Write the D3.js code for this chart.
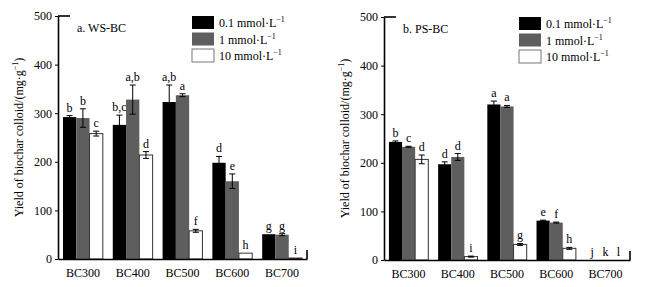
<!DOCTYPE html>
<html lang="en">
<head>
    <meta charset="UTF-8">
    <title>Yield of biochar colloid</title>
    <script src="https://d3js.org/d3.v7.min.js"></script>
    <style>
        body{ margin:0; background:#fff; }
        svg text{ font-family:"Liberation Serif","Times New Roman",serif; fill:#000; }
        g.axis text{ font-size:12px; }
        g.axis path, g.axis line{ stroke:#000; }
    </style>
</head>
<body>
<svg width="649" height="287"></svg>
<script>
    // categories and series
    const categories = ["BC300", "BC400", "BC500", "BC600", "BC700"];
    const seriesNames = ["0.1 mmol·L", "1 mmol·L", "10 mmol·L"];
    const seriesColors = ["#000000", "#5e5e5e", "#ffffff"];
    const yTicks = [0, 100, 200, 300, 400, 500];

    // a. WS-BC
    const wsTitle = "a. WS-BC";
    const wsValues = [
        [292, 276, 323, 198, 51],
        [290, 328, 337, 160, 50],
        [258, 214, 58, 12, 2]
    ];
    const wsErrors = [
        [3, 20, 35, 13, 0],
        [19, 30, 3, 15, 2],
        [5, 7, 3, 0, 0]
    ];
    const wsLetters = [
        ["b", "b,c", "a,b", "d", "g"],
        ["b", "a,b", "a", "e", "g"],
        ["c", "d", "f", "h", "i"]
    ];

    // b. PS-BC
    const psTitle = "b. PS-BC";
    const psValues = [
        [243, 197, 320, 81, 0],
        [233, 212, 316, 77, 0],
        [207, 7, 32, 24, 0]
    ];
    const psErrors = [
        [2, 5, 7, 1, 0],
        [1, 7, 2, 1, 0],
        [9, 1, 2, 2, 0]
    ];
    const psLetters = [
        ["b", "d", "a", "e", "j"],
        ["c", "d", "a", "f", "k"],
        ["d", "i", "g", "h", "l"]
    ];

    let svg = d3.select("svg");

    drawPanel({x0: 58, x1: 307, yTop: 16, yBottom: 259, labelX: 19,
        title: wsTitle, values: wsValues, errors: wsErrors, letters: wsLetters,
        legendX: 192, legendY: 16});
    drawPanel({x0: 384, x1: 630, yTop: 17, yBottom: 260, labelX: 345,
        title: psTitle, values: psValues, errors: psErrors, letters: psLetters,
        legendX: 519, legendY: 17});

    function drawPanel(p){
        let g = svg.append("g");

        let xScale = d3.scaleBand()
            .domain(categories)
            .range([p.x0, p.x1])
            .paddingInner(0.2)
            .paddingOuter(0.1);
        let xSub = d3.scaleBand()
            .domain(d3.range(seriesNames.length))
            .range([0, xScale.bandwidth()]);
        let yScale = d3.scaleLinear()
            .domain([0, 500])
            .range([p.yBottom, p.yTop]);

        // bars
        seriesNames.forEach((s, si) => {
            g.append("g").selectAll("rect")
                .data(p.values[si])
                .join("rect")
                .attr("x", (d, i) => xScale(categories[i]) + xSub(si))
                .attr("y", d => yScale(d))
                .attr("width", xSub.bandwidth())
                .attr("height", d => yScale(0) - yScale(d))
                .attr("fill", seriesColors[si])
                .attr("stroke", si === 2 ? "#333" : "none")
                .attr("stroke-width", 1);

            // error bars
            let eg = g.append("g").attr("stroke", "#000").attr("stroke-width", 1);
            p.values[si].forEach((v, i) => {
                let e = p.errors[si][i];
                if (e <= 0) return;
                let cx = xScale(categories[i]) + xSub(si) + xSub.bandwidth() / 2;
                eg.append("line").attr("x1", cx).attr("x2", cx)
                    .attr("y1", yScale(v + e)).attr("y2", yScale(Math.max(v - e, 0)));
                eg.append("line").attr("x1", cx - 3).attr("x2", cx + 3)
                    .attr("y1", yScale(v + e)).attr("y2", yScale(v + e));
                eg.append("line").attr("x1", cx - 3).attr("x2", cx + 3)
                    .attr("y1", yScale(Math.max(v - e, 0))).attr("y2", yScale(Math.max(v - e, 0)));
            });

            // significance letters
            g.append("g").selectAll("text")
                .data(p.values[si])
                .join("text")
                .attr("x", (d, i) => xScale(categories[i]) + xSub(si) + xSub.bandwidth() / 2)
                .attr("y", (d, i) => yScale(d + p.errors[si][i]) - 4)
                .attr("text-anchor", "middle")
                .attr("font-size", "12px")
                .text((d, i) => p.letters[si][i]);
        });

        // y axis
        let yAxis = g.append("g")
            .attr("class", "axis")
            .attr("transform", `translate(${p.x0},0)`)
            .call(d3.axisLeft(yScale).tickValues(yTicks).tickSize(3).tickSizeOuter(0).tickPadding(3));
        yAxis.select(".domain").attr("stroke-width", 1.6);
        g.append("line")
            .attr("x1", p.x0).attr("x2", p.x0 + 12)
            .attr("y1", yScale(500)).attr("y2", yScale(500))
            .attr("stroke", "#000").attr("stroke-width", 1.6);

        // x axis
        let xAxis = g.append("g")
            .attr("class", "axis")
            .attr("transform", `translate(0,${p.yBottom})`)
            .call(d3.axisBottom(xScale).tickSize(0).tickSizeOuter(0).tickPadding(9));
        xAxis.select(".domain").attr("stroke-width", 1.6);
        g.append("line")
            .attr("x1", p.x1).attr("x2", p.x1)
            .attr("y1", p.yBottom).attr("y2", p.yBottom - 9)
            .attr("stroke", "#000").attr("stroke-width", 1.6);

        // y label
        let yl = g.append("text")
            .attr("transform", `translate(${p.labelX + 4},${(p.yTop + p.yBottom) / 2}) rotate(-90)`)
            .attr("text-anchor", "middle")
            .attr("font-size", "12px");
        yl.append("tspan").text("Yield of biochar colloid/(mg·g");
        yl.append("tspan").attr("dy", -5).attr("font-size", "8px").text("−1");
        yl.append("tspan").attr("dy", 5).text(")");

        // panel title
        g.append("text")
            .attr("x", p.x0 + 19).attr("y", p.yTop + 16)
            .attr("font-size", "12px")
            .text(p.title);

        // legend
        let lg = g.append("g").attr("transform", `translate(${p.legendX},${p.legendY})`);
        seriesNames.forEach((s, si) => {
            lg.append("rect")
                .attr("x", 0).attr("y", si * 16.5)
                .attr("width", 22).attr("height", 13)
                .attr("fill", seriesColors[si])
                .attr("stroke", si === 2 ? "#777" : "none");
            let t = lg.append("text")
                .attr("x", 27).attr("y", si * 16.5 + 11)
                .attr("font-size", "12px");
            t.append("tspan").text(s);
            t.append("tspan").attr("dy", -5).attr("font-size", "8px").text("−1");
        });
    }
</script>
</body>
</html>
